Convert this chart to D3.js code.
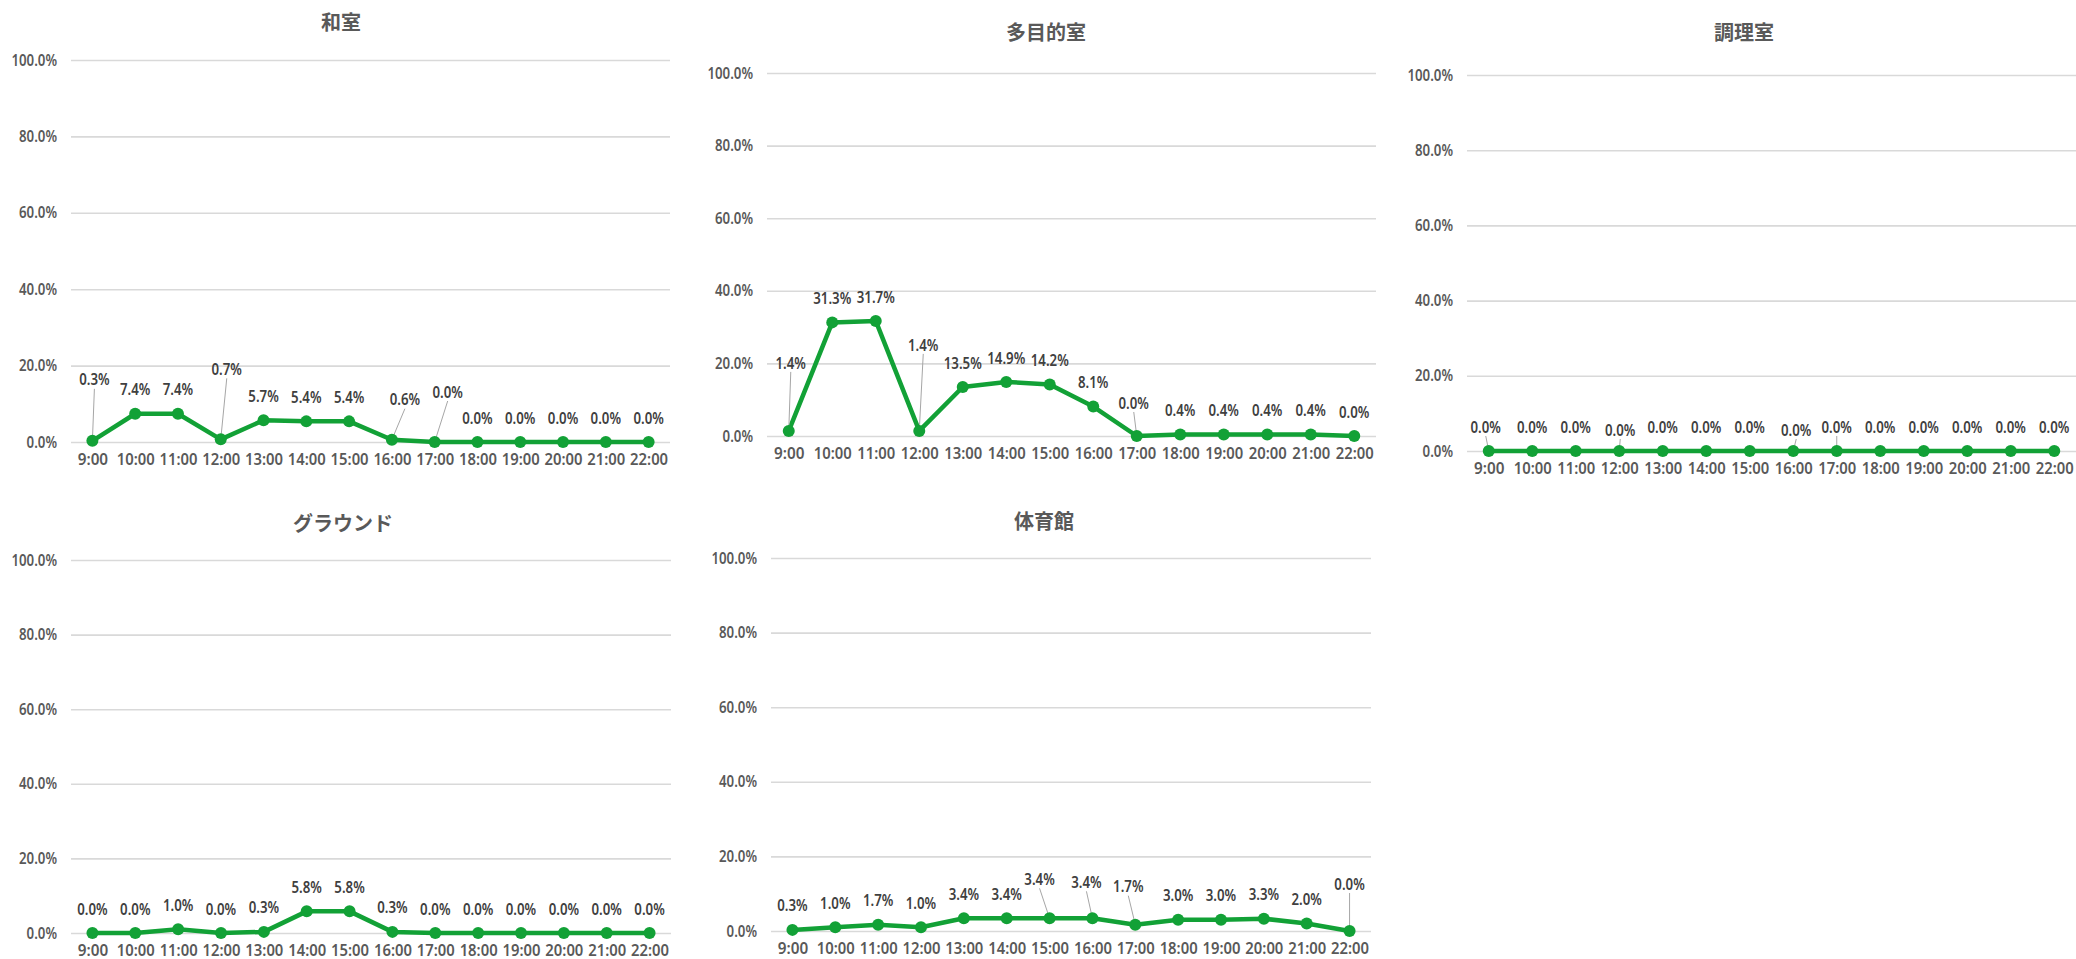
<!DOCTYPE html>
<html>
<head>
<meta charset="utf-8">
<script src="https://cdn.jsdelivr.net/npm/d3@7"></script>
<style>
  html, body { margin: 0; padding: 0; background: #fff; }
  svg { display: block; }
  .num { font-family: "Noto Sans", "DejaVu Sans", sans-serif; font-weight: 600; }
</style>
</head>
<body>
<div id="chart"></div>
<script>
const hours = ['9:00', '10:00', '11:00', '12:00', '13:00', '14:00', '15:00', '16:00', '17:00', '18:00', '19:00', '20:00', '21:00', '22:00'];
const yTicks = [0, 20, 40, 60, 80, 100];

const washitsu = [0.3, 7.4, 7.4, 0.7, 5.7, 5.4, 5.4, 0.6, 0.0, 0.0, 0.0, 0.0, 0.0, 0.0];
const tamokuteki = [1.4, 31.3, 31.7, 1.4, 13.5, 14.9, 14.2, 8.1, 0.0, 0.4, 0.4, 0.4, 0.4, 0.0];
const chouri = [0.0, 0.0, 0.0, 0.0, 0.0, 0.0, 0.0, 0.0, 0.0, 0.0, 0.0, 0.0, 0.0, 0.0];
const ground = [0.0, 0.0, 1.0, 0.0, 0.3, 5.8, 5.8, 0.3, 0.0, 0.0, 0.0, 0.0, 0.0, 0.0];
const taiikukan = [0.3, 1.0, 1.7, 1.0, 3.4, 3.4, 3.4, 3.4, 1.7, 3.0, 3.0, 3.3, 2.0, 0.0];

const W = 2076, H = 959;
const GREEN = '#12a136';
const TEXT = '#595959';
const CHAR_W = 7.6; // the source font is tall and narrow, squeeze to match

// layout of each small chart; moved labels get a leader line like Excel
const panels = [
  { title: '和室', values: washitsu, x0: 71, x1: 670, top: 60, bottom: 442, titleX: 341, titleY: 23,
    moved: { 0: [2, -37], 3: [6, -46], 7: [13, -16], 8: [13, -26] } },
  { title: '多目的室', values: tamokuteki, x0: 767, x1: 1376, top: 73, bottom: 436, titleX: 1046, titleY: 33,
    moved: { 0: [2, -44], 3: [4, -62], 8: [-3, -9] } },
  { title: '調理室', values: chouri, x0: 1467, x1: 2076, top: 75, bottom: 451, titleX: 1744, titleY: 33,
    moved: { 0: [-3, 0], 3: [1, 3], 7: [3, 3], 8: [0, 0] } },
  { title: 'グラウンド', values: ground, x0: 71, x1: 671, top: 560, bottom: 933, titleX: 343, titleY: 524,
    moved: {} },
  { title: '体育館', values: taiikukan, x0: 771, x1: 1371, top: 558, bottom: 931, titleX: 1044, titleY: 522,
    moved: { 6: [-10, -15], 7: [-6, -12], 8: [-7, -14], 13: [0, -23] } }
];

const svg = d3.select('#chart').append('svg')
  .attr('width', W)
  .attr('height', H);

const fmt = d => d.toFixed(1) + '%';

function squeeze(sel) {
  sel.attr('textLength', function () { return this.textContent.length * CHAR_W; })
    .attr('lengthAdjust', 'spacingAndGlyphs');
}

panels.forEach(p => {
  const g = svg.append('g');
  const x = d3.scalePoint().domain(hours).range([p.x0, p.x1]).padding(0.5);
  const y = d3.scaleLinear().domain([0, 100]).range([p.bottom, p.top]);

  g.append('text')
    .attr('x', p.titleX)
    .attr('y', p.titleY)
    .attr('dy', '0.36em')
    .attr('text-anchor', 'middle')
    .attr('fill', TEXT)
    .attr('font-family', '"Noto Sans CJK JP", sans-serif')
    .attr('font-weight', 'bold')
    .attr('font-size', 20)
    .text(p.title);

  // gridlines + y labels
  const yAxis = g.append('g')
    .attr('transform', `translate(${p.x0},0)`)
    .call(d3.axisLeft(y).tickValues(yTicks).tickFormat(fmt)
      .tickSize(-(p.x1 - p.x0)).tickPadding(14))
    .attr('font-family', null)
    .attr('font-size', null);
  yAxis.select('.domain').remove();
  yAxis.selectAll('.tick line').attr('stroke', '#d9d9d9').attr('stroke-width', 1.6);
  yAxis.selectAll('.tick text')
    .attr('class', 'num')
    .attr('fill', TEXT)
    .attr('font-size', 16)
    .call(squeeze);

  const xAxis = g.append('g')
    .attr('transform', `translate(0,${p.bottom})`)
    .call(d3.axisBottom(x).tickSize(0).tickPadding(12))
    .attr('font-family', null)
    .attr('font-size', null);
  xAxis.select('.domain').remove();
  xAxis.selectAll('.tick text')
    .attr('class', 'num')
    .attr('fill', TEXT)
    .attr('font-size', 16)
    .call(squeeze);

  const pts = p.values.map((v, i) => ({ hour: hours[i], v, i }));

  g.append('path')
    .datum(pts)
    .attr('fill', 'none')
    .attr('stroke', GREEN)
    .attr('stroke-width', 4.5)
    .attr('stroke-linejoin', 'round')
    .attr('d', d3.line().x(d => x(d.hour)).y(d => y(d.v)));

  // leader lines for moved labels
  g.selectAll('line.leader')
    .data(pts.filter(d => p.moved[d.i]))
    .enter().append('line')
    .attr('class', 'leader')
    .attr('x1', d => x(d.hour) + p.moved[d.i][0])
    .attr('y1', d => y(d.v) - 24 + p.moved[d.i][1] + 9)
    .attr('x2', d => x(d.hour))
    .attr('y2', d => y(d.v))
    .attr('stroke', '#a6a6a6')
    .attr('stroke-width', 1);

  g.selectAll('circle')
    .data(pts)
    .enter().append('circle')
    .attr('cx', d => x(d.hour))
    .attr('cy', d => y(d.v))
    .attr('r', 6)
    .attr('fill', GREEN);

  g.selectAll('text.val')
    .data(pts)
    .enter().append('text')
    .attr('class', 'val num')
    .attr('x', d => x(d.hour) + (p.moved[d.i] ? p.moved[d.i][0] : 0))
    .attr('y', d => y(d.v) - 24 + (p.moved[d.i] ? p.moved[d.i][1] : 0))
    .attr('dy', '0.35em')
    .attr('text-anchor', 'middle')
    .attr('fill', '#404040')
    .attr('font-size', 16)
    .text(d => fmt(d.v))
    .call(squeeze);
});
</script>
</body>
</html>
